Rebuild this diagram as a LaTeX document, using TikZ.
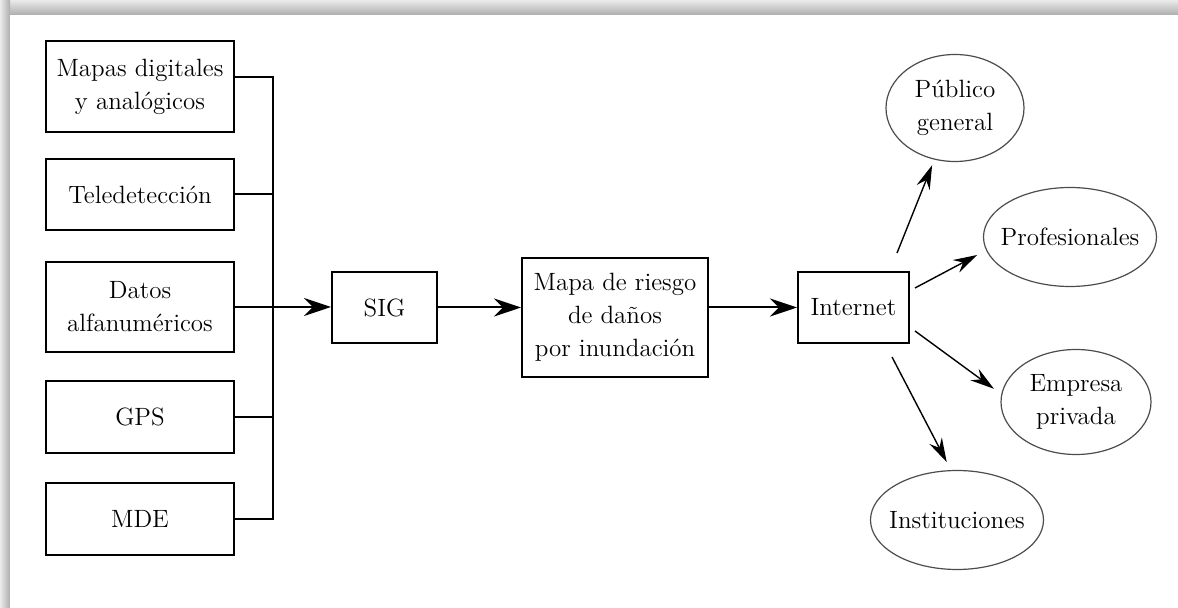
\documentclass[tikz,border=0pt]{standalone}
\usepackage{tikz}
\usetikzlibrary{arrows.meta,shapes.geometric}

\begin{document}
\begin{tikzpicture}[x=0.5pt,y=-0.5pt,>={Stealth[length=13.5pt,width=9pt,inset=4.5pt]},
    font=\fontsize{12.5}{16.5}\selectfont,
    box/.style={draw,line width=1pt,align=center,inner sep=0pt,minimum width=94pt},
    oval/.style={ellipse,draw=black!70,line width=0.6pt,align=center,inner xsep=-8pt,inner ysep=0pt},
    wire/.style={line width=1pt},
    ray/.style={line width=0.7pt,>={Stealth[length=12pt,width=7pt,inset=4pt]}}]
      \useasboundingbox (0,0) rectangle (1178,608);
      \shade[top color=black!8,bottom color=black!32] (0,0) rectangle (1178,15);
      \shade[left color=black!8,right color=black!32] (0,0) rectangle (10,608);
      \fill[white] (10,15) rectangle (1178,608);

      \node[box,minimum height=45.5pt] (mapas) at (140,86.5) {Mapas digitales\\y analógicos};
      \node[box,minimum height=35.5pt] (tele) at (140,194.5) {Teledetección};
      \node[box,minimum height=45pt] (datos) at (140,307) {Datos\\alfanuméricos};
      \node[box,minimum height=36pt] (gps) at (140,417) {GPS};
      \node[box,minimum height=36pt] (mde) at (140,519) {MDE};
      \coordinate (bus) at (273,0);

      \node[box,minimum width=52.5pt,minimum height=35.5pt] (sig) at (384.5,307.5) {SIG};
      \node[box,minimum width=93pt,minimum height=59.5pt] (mapa) at (615,317.5) {Mapa de riesgo\\de daños\\por inundación};
      \node[box,minimum width=55.5pt,minimum height=35.5pt] (inet) at (853.5,307.5) {Internet};

      \node[oval,minimum width=69pt,minimum height=53.5pt] (publico) at (955,108) {Público\\general};
      \node[oval,minimum width=86.5pt,minimum height=49.5pt] (prof) at (1070,237) {Profesionales};
      \node[oval,minimum width=75pt,minimum height=52.5pt] (empresa) at (1076,402) {Empresa\\privada};
      \node[oval,minimum width=86.5pt,minimum height=49.5pt] (inst) at (957,520) {Instituciones};

      \coordinate (p1) at (897,253);
      \coordinate (p2) at (915,288);
      \coordinate (p3) at (915,331);
      \coordinate (p4) at (892,357);

      \draw[wire] ([yshift=4.75pt]mapas.east) -- ([yshift=4.75pt]mapas.east -| bus)
        -- (mde.east -| bus) -- (mde.east);
      \draw[wire] (tele.east) -- (tele.east -| bus);
      \draw[wire] (gps.east) -- (gps.east -| bus);

      \path[->,wire]
      (datos.east) edge (datos.east -| sig.west)
      (sig.east) edge (sig.east -| mapa.west)
      (sig.east -| mapa.east) edge (inet.west)
      ;

      \path[->,ray]
      (p1) edge [shorten >=3pt] (publico)
      (p2) edge [shorten >=5pt] (prof.189)
      (p3) edge [shorten >=4.5pt] (empresa.174)
      (p4) edge [shorten >=4.5pt] (inst.97)
      ;
    \end{tikzpicture}
\end{document}
